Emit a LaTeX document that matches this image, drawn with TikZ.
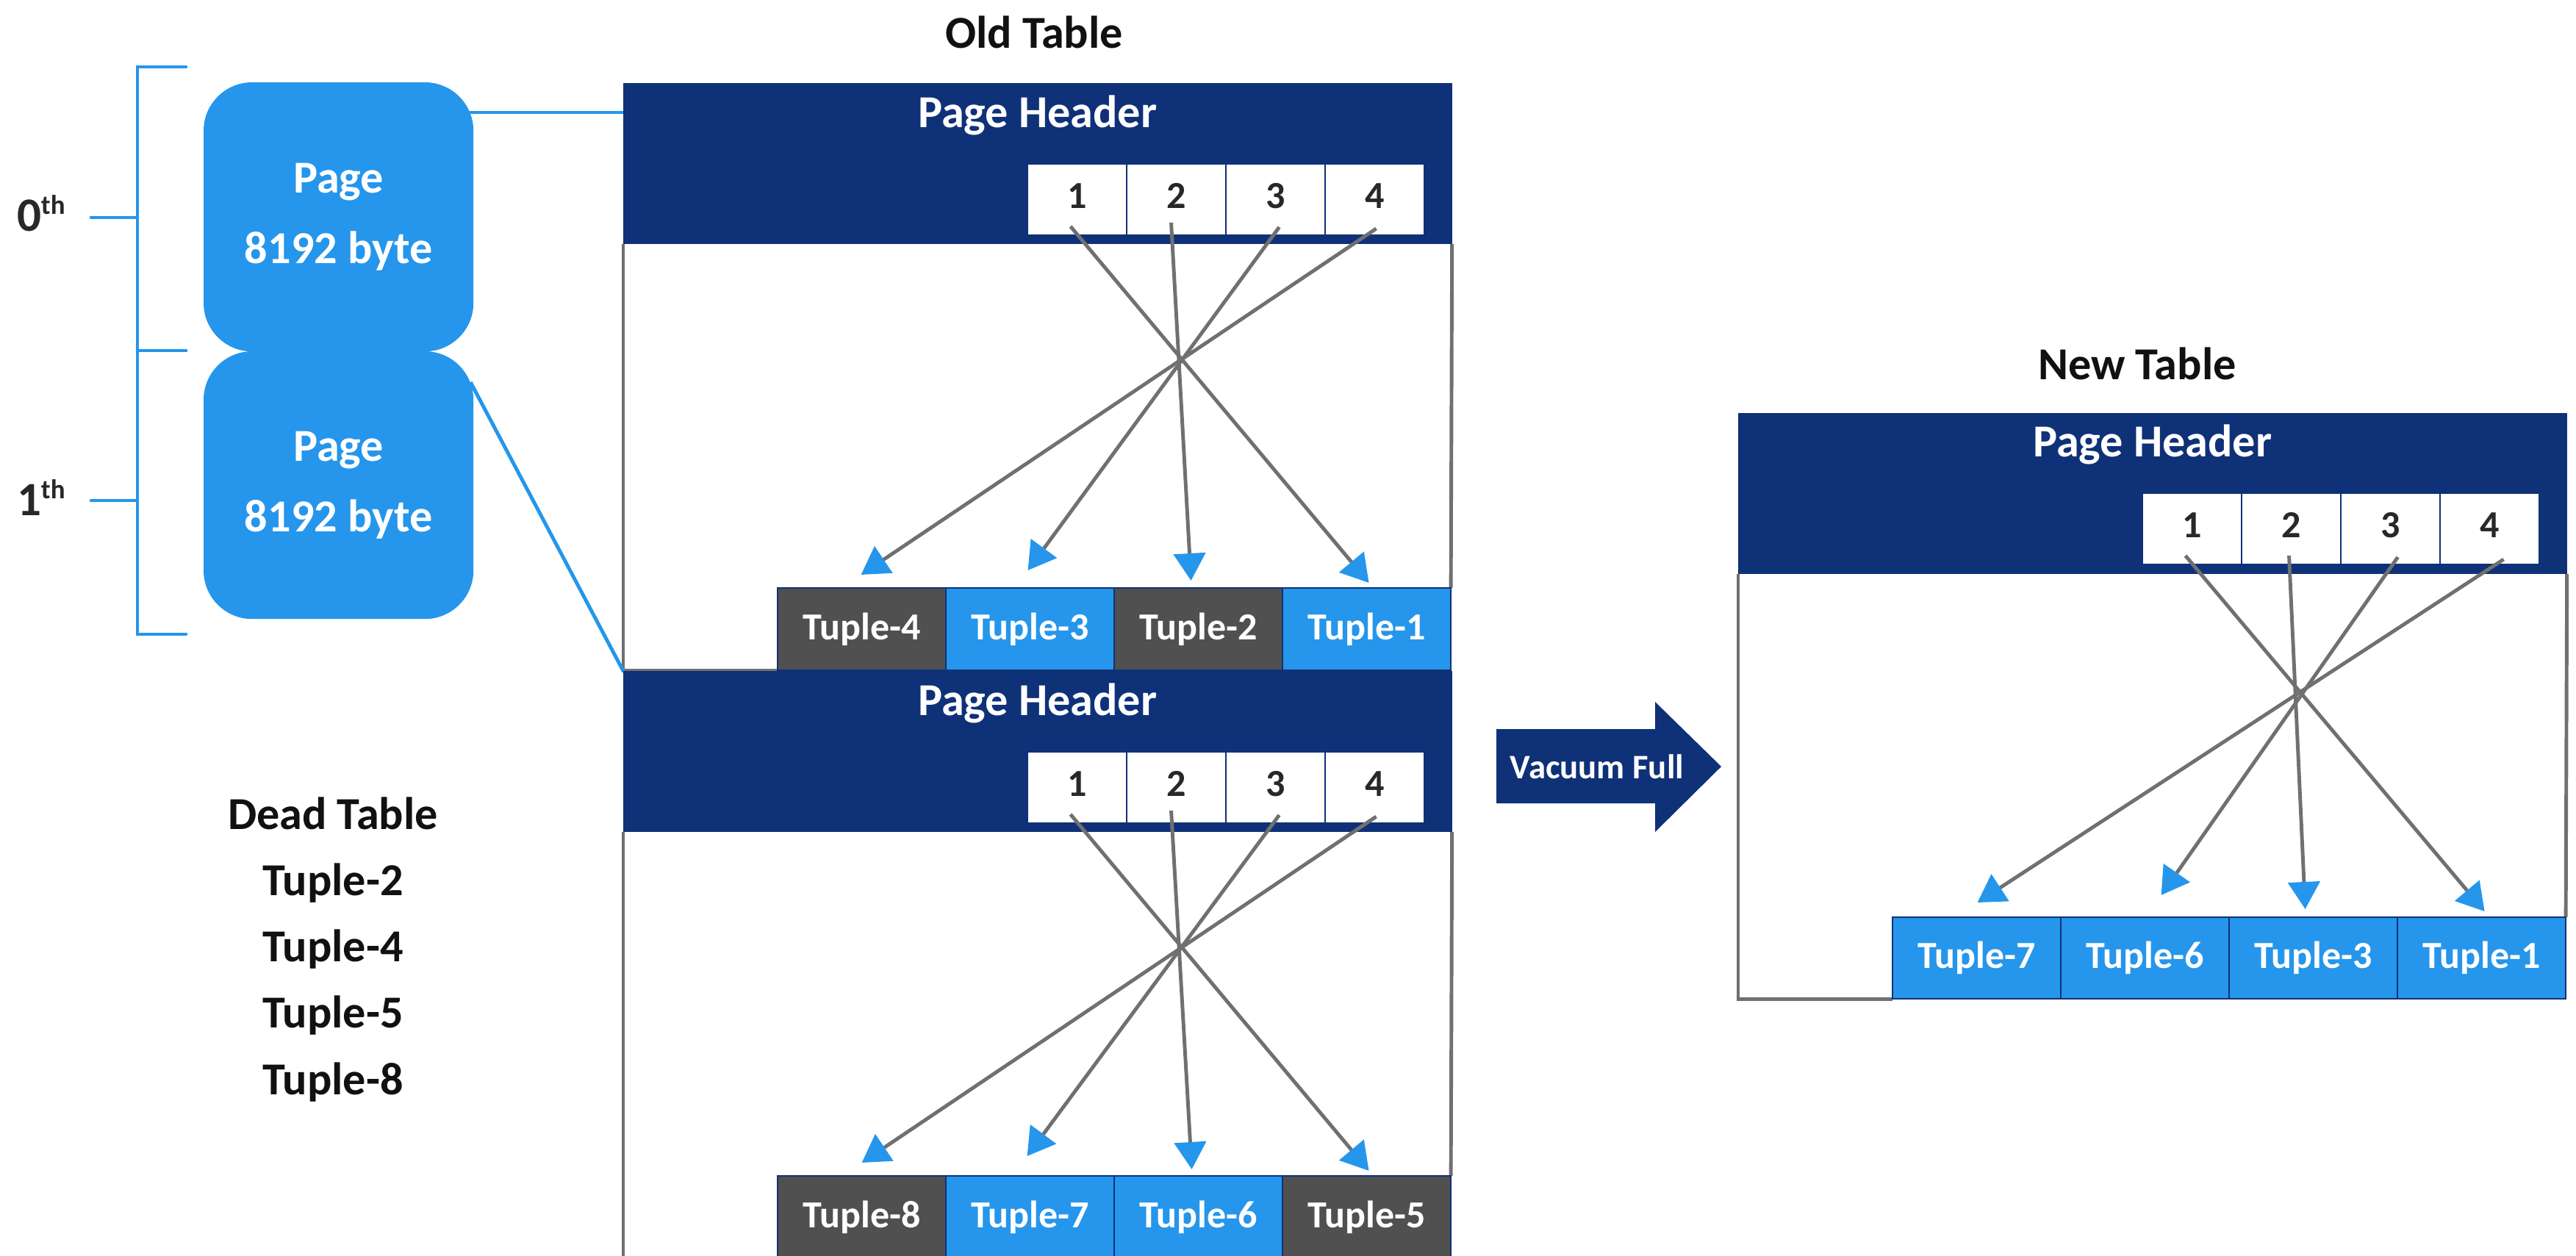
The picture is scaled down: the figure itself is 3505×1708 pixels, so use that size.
\documentclass[tikz,border=0pt]{standalone}
\usepackage{fontspec}
\setmainfont{Carlito}
\usetikzlibrary{arrows.meta,calc,backgrounds}

\definecolor{navy}{RGB}{15,49,120}
\definecolor{sky}{RGB}{37,150,235}
\definecolor{deadgray}{RGB}{80,80,80}
\definecolor{linegray}{RGB}{112,112,112}
\definecolor{ink}{RGB}{17,17,17}
\definecolor{numink}{RGB}{40,40,40}

% font sizes
\newcommand\fBig{\fontsize{17.7pt}{27.3pt}\selectfont\bfseries}
\newcommand\fList{\fontsize{17.7pt}{25.6pt}\selectfont\bfseries}
\newcommand\fCell{\fontsize{14.8pt}{17pt}\selectfont\bfseries}
\newcommand\fVac{\fontsize{13.3pt}{15pt}\selectfont\bfseries}
\newcommand\fOrd{\fontsize{18.5pt}{20pt}\selectfont\bfseries}
\newcommand\fSup{\fontsize{10.5pt}{12pt}\selectfont\bfseries}

\begin{document}
\begin{tikzpicture}[x=0.01cm,y=-0.01cm,
  every node/.style={inner sep=0pt, outer sep=0pt},
  hdr/.style={fill=navy, minimum width=11.27cm, minimum height=2.19cm, anchor=north west},
  hdrtext/.style={text=white, font=\fBig},
  slot/.style={fill=white, draw=navy, line width=0.6pt, minimum width=1.35cm,
    minimum height=0.97cm, text depth=0.1cm, anchor=north west, text=numink, font=\fCell},
  live/.style={fill=sky, draw=navy, line width=0.7pt, minimum width=2.29cm,
    minimum height=1.12cm, anchor=north west, text=white, font=\fCell},
  dead/.style={live, fill=deadgray},
  ptr/.style={draw=linegray, line width=1.4pt,
    -{Triangle[length=0.37cm,width=0.43cm,color=sky]}},
  outline/.style={draw=linegray, line width=1.4pt},
  link/.style={draw=sky, line width=1.4pt},
  bracket/.style={draw=sky, line width=1.3pt, line cap=round},
  pagebox/.style={fill=sky, rounded corners=0.66cm, minimum width=3.67cm,
    anchor=north west, text=white, font=\fBig, align=center},
  title/.style={text=ink, font=\fBig},
  ordinal/.style={anchor=base west, text=numink, font=\fOrd}
]
\clip (0,0) rectangle (3505,1708);

% ---------- page stack on the left ----------
\node[pagebox, minimum height=3.66cm] (p0) at (277,112) {Page\\8192 byte};
\node[pagebox, minimum height=3.64cm] (p1) at (277,478) {Page\\8192 byte};

\draw[bracket] (253,91) -- (187,91) -- (187,863) -- (253,863);
\draw[bracket] (187,477) -- (253,477);
\draw[bracket] (124,296) -- (187,296);
\draw[bracket] (124,681) -- (187,681);
\node[ordinal] (ord0) at (23,314) {0\raisebox{6.3pt}{\fSup th}};
\node[ordinal] (ord1) at (23,701) {1\raisebox{6.3pt}{\fSup th}};

% ---------- old table ----------
\node[title] (oldtitle) at (1407,44) {Old Table};

% first page
\node[hdr] (o1h) at (848,113) {};
\node[hdrtext] (o1ht) at ($(o1h.north)+(0,44)$) {Page Header};
\node[slot] (o1s1) at (1398,223) {1};
\node[slot] (o1s2) at (1533,223) {2};
\node[slot] (o1s3) at (1668,223) {3};
\node[slot] (o1s4) at (1803,223) {4};
\node[dead] (tup4) at (1058,800) {Tuple-4};
\node[live] (tup3) at (1287,800) {Tuple-3};
\node[dead] (tup2) at (1516,800) {Tuple-2};
\node[live] (tup1) at (1745,800) {Tuple-1};

% second page
\node[hdr] (o2h) at (848,913) {};
\node[hdrtext] (o2ht) at ($(o2h.north)+(0,44)$) {Page Header};
\node[slot] (o2s1) at (1398,1023) {1};
\node[slot] (o2s2) at (1533,1023) {2};
\node[slot] (o2s3) at (1668,1023) {3};
\node[slot] (o2s4) at (1803,1023) {4};
\node[dead] (tup8) at (1058,1600) {Tuple-8};
\node[live] (tup7) at (1287,1600) {Tuple-7};
\node[live] (tup6) at (1516,1600) {Tuple-6};
\node[dead] (tup5) at (1745,1600) {Tuple-5};

% ---------- new table ----------
\node[title] (newtitle) at (2908,495) {New Table};
\node[hdr] (nh) at (2365,562) {};
\node[hdrtext] (nht) at ($(nh.north)+(0,43)$) {Page Header};
\node[slot] (ns1) at (2915,671) {1};
\node[slot] (ns2) at (3050,671) {2};
\node[slot] (ns3) at (3185,671) {3};
\node[slot] (ns4) at (3320,671) {4};
\node[live, minimum height=1.11cm] (nt7) at (2575,1248) {Tuple-7};
\node[live, minimum height=1.11cm] (nt6) at (2804,1248) {Tuple-6};
\node[live, minimum height=1.11cm] (nt3) at (3033,1248) {Tuple-3};
\node[live, minimum height=1.11cm] (nt1) at (3262,1248) {Tuple-1};

% page outlines
\begin{scope}[on background layer]
  \draw[outline] (o1h.south west) |- (tup4.south west);
  \draw[outline] (o1h.south east) -- (tup1.north east);
  \draw[outline] (o2h.south west) |- (tup8.south west);
  \draw[outline] (o2h.south east) -- (tup5.north east);
  \draw[outline] (nh.south west) |- (nt7.south west);
  \draw[outline] (nh.south east) -- (nt1.north east);
\end{scope}

% item pointers, first page
\draw[ptr] ($(o1s1.south)+(-9,-12)$) -- ($(tup1.north)+(3,-7)$);
\draw[ptr] ($(o1s2.south)+(-7,-17)$) -- ($(tup2.north)+(-10,-10)$);
\draw[ptr] ($(o1s3.south)+(5,-11)$) -- ($(tup3.north)+(-3,-24)$);
\draw[ptr] ($(o1s4.south)+(2,-9)$) -- ($(tup4.north)+(-1,-18)$);

% item pointers, second page
\draw[ptr] ($(o2s1.south)+(-9,-12)$) -- ($(tup5.north)+(3,-7)$);
\draw[ptr] ($(o2s2.south)+(-7,-17)$) -- ($(tup6.north)+(-9,-9)$);
\draw[ptr] ($(o2s3.south)+(5,-11)$) -- ($(tup7.north)+(-4,-27)$);
\draw[ptr] ($(o2s4.south)+(2,-9)$) -- ($(tup8.north)+(0,-18)$);

% item pointers, new table
\draw[ptr] ($(ns1.south)+(-9,-12)$) -- ($(nt1.north)+(4,-8)$);
\draw[ptr] ($(ns2.south)+(-3,-12)$) -- ($(nt3.north)+(-11,-11)$);
\draw[ptr] ($(ns3.south)+(10,-10)$) -- ($(nt6.north)+(22,-30)$);
\draw[ptr] ($(ns4.south)+(19,-7)$) -- ($(nt7.north)+(1,-20)$);

% links from the page stack into the table
\draw[link] ($(p0.north east)+(-6,41)$) -- ($(o1h.north west)+(0,40)$);
\draw[link] ($(p1.north east)+(-4,42)$) -- (o2h.north west);

% dead tuple list
\node[title, font=\fList, align=center] (deadlist) at (453,1292)
  {Dead Table\\Tuple-2\\Tuple-4\\Tuple-5\\Tuple-8};

% vacuum full arrow
\fill[navy] (2036,992) -- (2252,992) -- (2252,955) -- (2342,1043)
  -- (2252,1132) -- (2252,1093) -- (2036,1093) -- cycle;
\node[text=white, font=\fVac] (vac) at (2173,1043) {Vacuum Full};
\end{tikzpicture}
\end{document}
